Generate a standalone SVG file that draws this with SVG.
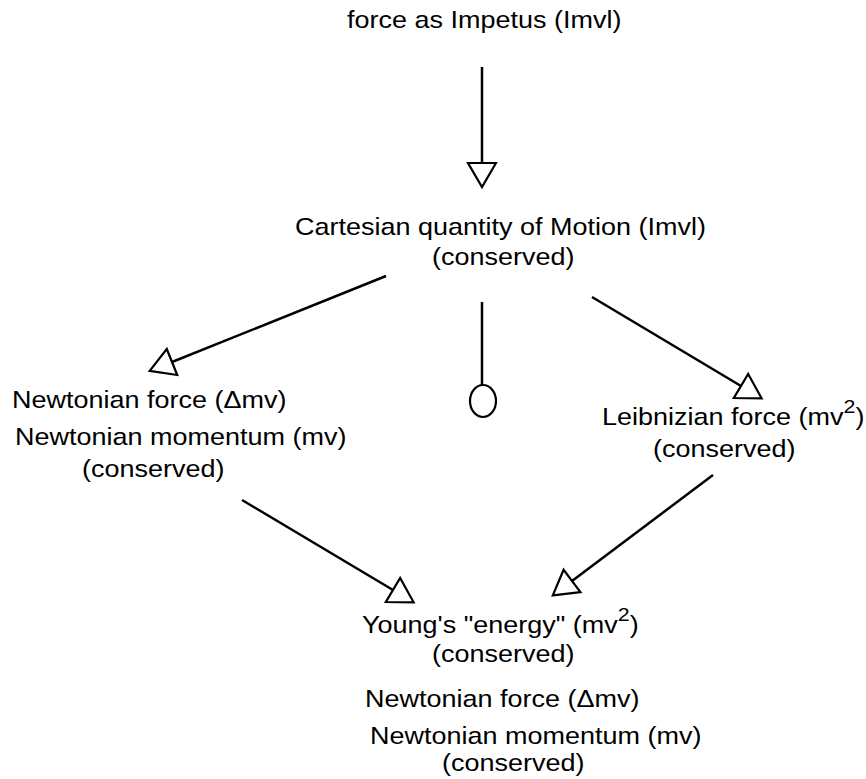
<svg xmlns="http://www.w3.org/2000/svg" width="866" height="779" viewBox="0 0 866 779">
  <style>
    .t { font-family: "Liberation Sans", Arial, Helvetica, sans-serif; font-size: 24px; fill: #000; }
    .sup { font-size: 19px; }
    .edge { stroke: #000; stroke-width: 2.5; fill: none; }
  </style>
  <defs>
    <marker id="tri" markerUnits="userSpaceOnUse" viewBox="-3 -17 30 34" markerWidth="30" markerHeight="34" refX="0" refY="0" orient="auto" overflow="visible">
      <path d="M0,-14 L24,0 L0,14 Z" fill="#fff" stroke="#000" stroke-width="2.2" stroke-linejoin="miter"/>
    </marker>
  </defs>
  <rect width="866" height="779" fill="#fff"/>

  <g id="connectors">
    <line class="edge" x1="482" y1="67" x2="482" y2="163" marker-end="url(#tri)"/>
    <line class="edge" x1="386" y1="276" x2="172" y2="362" marker-end="url(#tri)"/>
    <line class="edge" x1="482" y1="302" x2="482" y2="385"/>
    <ellipse cx="483" cy="401" rx="13" ry="16" fill="#fff" stroke="#000" stroke-width="2.2"/>
    <line class="edge" x1="592" y1="297" x2="741" y2="386" marker-end="url(#tri)"/>
    <line class="edge" x1="242" y1="500" x2="393" y2="590" marker-end="url(#tri)"/>
    <line class="edge" x1="713" y1="475" x2="572" y2="581" marker-end="url(#tri)"/>
  </g>

  <g id="n-impetus">
    <text class="t" transform="translate(347,28) scale(1.125,1)">force as Impetus (Imvl)</text>
  </g>

  <g id="n-cartesian">
    <text class="t" transform="translate(295,235) scale(1.125,1)">Cartesian quantity of Motion (Imvl)</text>
    <text class="t" transform="translate(432,265) scale(1.125,1)">(conserved)</text>
  </g>

  <g id="n-newtonian">
    <text class="t" transform="translate(12,408) scale(1.125,1)">Newtonian force (Δmv)</text>
    <text class="t" transform="translate(15,445) scale(1.125,1)">Newtonian momentum (mv)</text>
    <text class="t" transform="translate(82,477) scale(1.125,1)">(conserved)</text>
  </g>

  <g id="n-leibnizian">
    <text class="t" transform="translate(602,425) scale(1.125,1)">Leibnizian force (mv<tspan class="sup" dy="-12">2</tspan><tspan dy="12">)</tspan></text>
    <text class="t" transform="translate(653,457) scale(1.125,1)">(conserved)</text>
  </g>

  <g id="n-young">
    <text class="t" transform="translate(362,633) scale(1.125,1)">Young's "energy" (mv<tspan class="sup" dy="-12">2</tspan><tspan dy="12">)</tspan></text>
    <text class="t" transform="translate(432,662) scale(1.125,1)">(conserved)</text>
  </g>

  <g id="n-newtonian-bottom">
    <text class="t" transform="translate(365,707) scale(1.125,1)">Newtonian force (Δmv)</text>
    <text class="t" transform="translate(370,744) scale(1.125,1)">Newtonian momentum (mv)</text>
    <text class="t" transform="translate(442,771) scale(1.125,1)">(conserved)</text>
  </g>
</svg>
